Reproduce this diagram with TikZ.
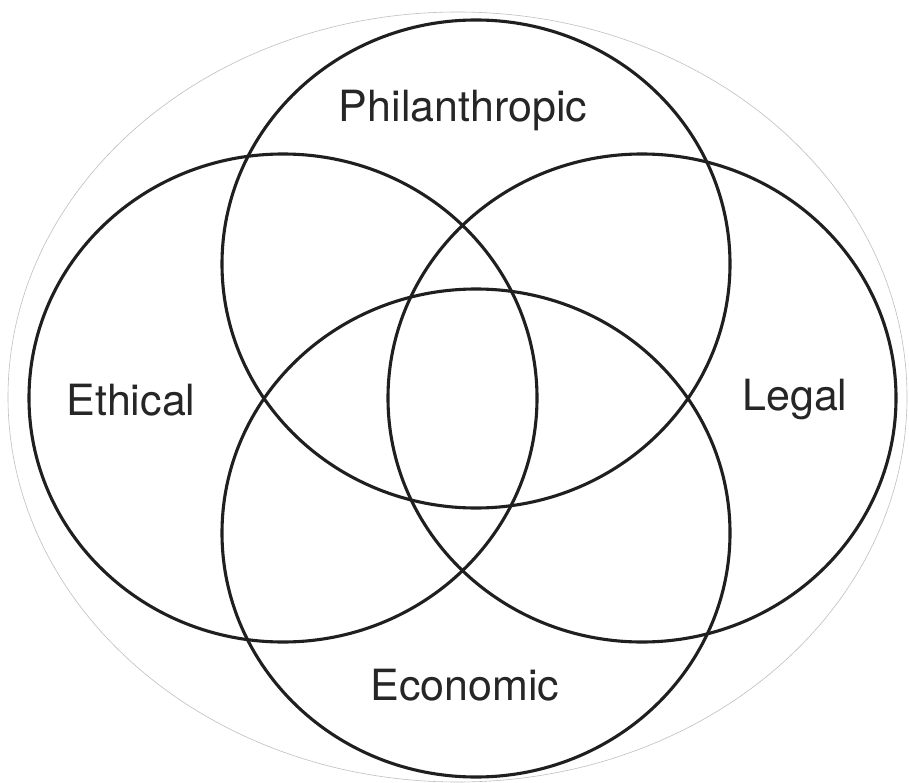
\documentclass[tikz,border=0pt]{standalone}
\usepackage{fontspec}
\setmainfont{TeX Gyre Heros}
\begin{document}
\begin{tikzpicture}[x=1pt,y=-1pt,
  ring/.style={draw=black!88, line width=3.1pt},
  outer/.style={draw=black!25, line width=0.6pt},
  lbl/.style={font=\fontsize{43}{43}\selectfont, text=black!85, inner sep=0pt}]
\useasboundingbox (0,0) rectangle (909,783);
\fill[white] (0,0) rectangle (909,783);
\draw[outer] (457.5,397) ellipse [x radius=449.5, y radius=385];
\draw[ring] (476,264) ellipse [x radius=254, y radius=244];
\draw[ring] (283,398) ellipse [x radius=254, y radius=244];
\draw[ring] (642,398) ellipse [x radius=254, y radius=244];
\draw[ring] (476,533) ellipse [x radius=254, y radius=244];
\node[lbl] (phil) at (463,111) {Philanthropic};
\node[lbl] (eth) at (131,400) {Ethical};
\node[lbl] (leg) at (795,400) {Legal};
\node[lbl] (eco) at (465,685) {Economic};
\end{tikzpicture}
\end{document}
